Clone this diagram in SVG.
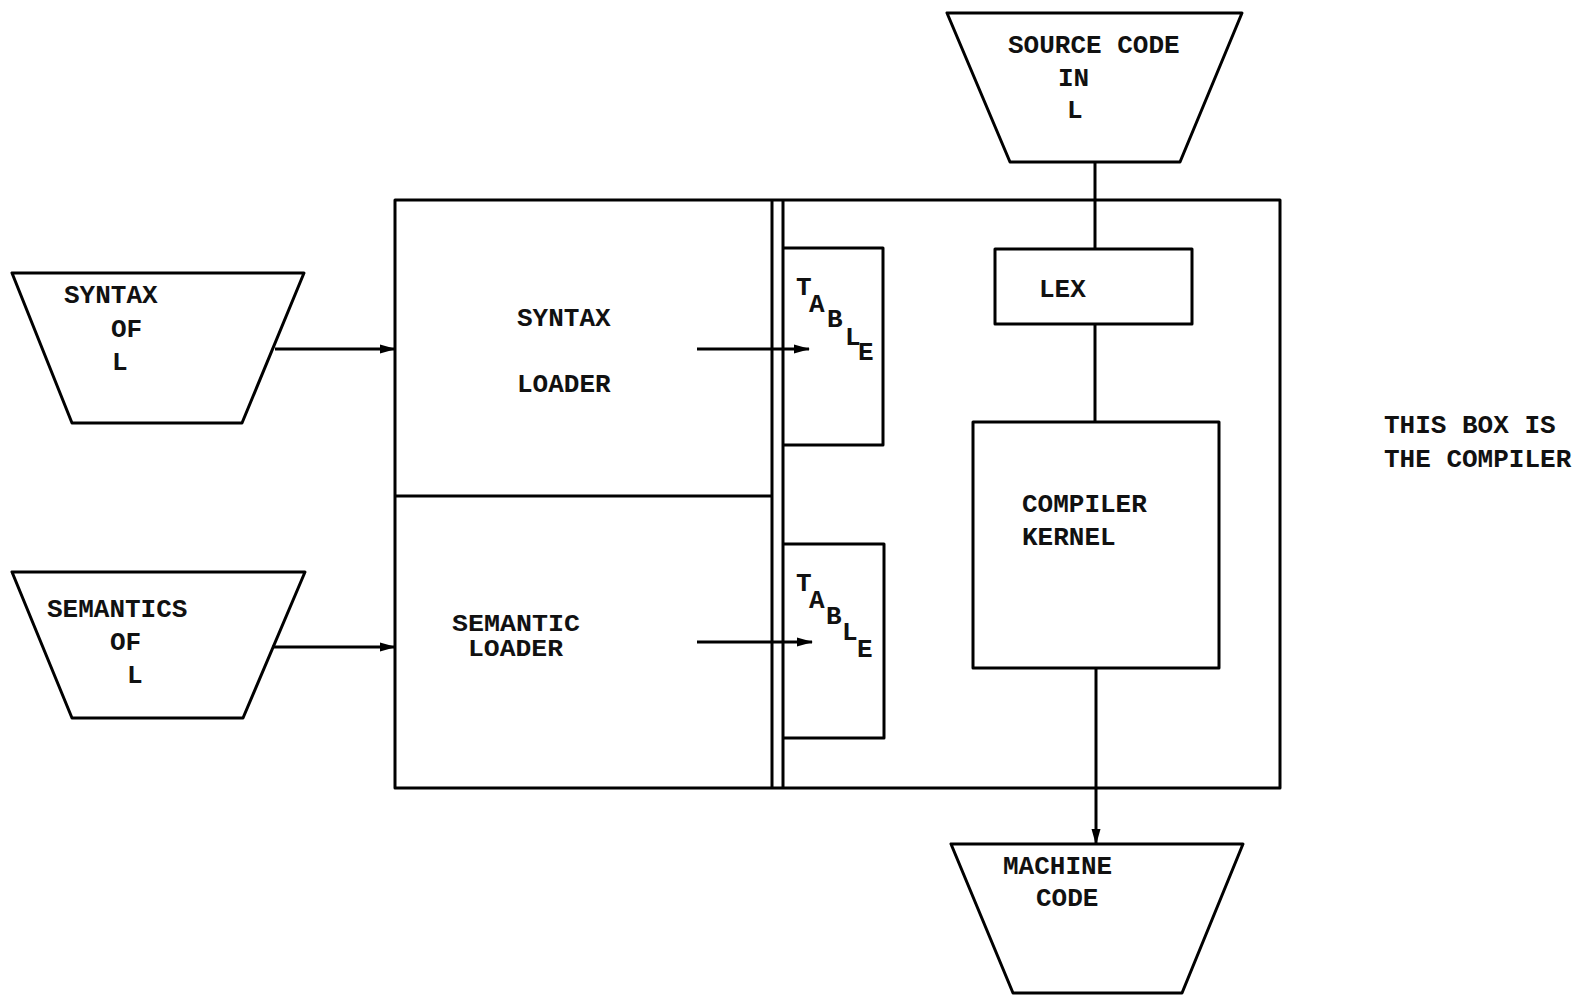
<svg xmlns="http://www.w3.org/2000/svg" width="1587" height="996" viewBox="0 0 1587 996">
<style>
.s{fill:none;stroke:#000;stroke-width:3;stroke-linejoin:round}
.b{fill:#fff;stroke:#000;stroke-width:3;stroke-linejoin:round}
.l{stroke:#000;stroke-width:3;fill:none}
text{font-family:"Liberation Mono","Courier New",monospace;font-size:26px;font-weight:bold;fill:#111}
.sm{font-size:24px}
</style>
<defs>
<marker id="ah" viewBox="0 0 16 10" refX="15" refY="5" markerWidth="16" markerHeight="10" markerUnits="userSpaceOnUse" orient="auto">
<path d="M0,0.5 L16,5 L0,9.5 Z" fill="#000"/>
</marker>
</defs>
<rect width="1587" height="996" fill="#fff"/>
<g id="compiler">
<rect class="s" x="395" y="200" width="885" height="588"/>
<line class="s" x1="772" y1="200" x2="772" y2="788"/>
<line class="s" x1="783" y1="200" x2="783" y2="788"/>
<line class="s" x1="395" y1="496" x2="772" y2="496"/>
</g>
<g id="syntax-loader">
<text x="517" y="326">SYNTAX</text>
<text x="517" y="392">LOADER</text>
</g>
<g id="semantic-loader">
<text class="sm" x="452" y="631" textLength="128" lengthAdjust="spacingAndGlyphs">SEMANTIC</text>
<text class="sm" x="468" y="656" textLength="95" lengthAdjust="spacingAndGlyphs">LOADER</text>
</g>
<g id="table1">
<path class="s" d="M783,248 H883 V445 H783"/>
<text x="796" y="295">T</text>
<text x="809" y="312">A</text>
<text x="827" y="327">B</text>
<text x="845" y="345">L</text>
<text x="858" y="360">E</text>
</g>
<g id="table2">
<path class="s" d="M783,544 H884 V738 H783"/>
<text x="796" y="591">T</text>
<text x="809" y="608">A</text>
<text x="826" y="624">B</text>
<text x="842" y="640">L</text>
<text x="857" y="657">E</text>
</g>
<g id="lex">
<rect class="b" x="995" y="249" width="197" height="75"/>
<text x="1039" y="297">LEX</text>
</g>
<g id="kernel">
<rect class="b" x="973" y="422" width="246" height="246"/>
<text x="1022" y="512">COMPILER</text>
<text x="1022" y="545">KERNEL</text>
</g>
<g id="source-code">
<polygon class="b" points="947,13 1242,13 1180,162 1010,162"/>
<text x="1008" y="53">SOURCE CODE</text>
<text x="1058" y="86">IN</text>
<text x="1067" y="118">L</text>
</g>
<g id="machine-code">
<polygon class="b" points="951,844 1243,844 1182,993 1013,993"/>
<text x="1003" y="874">MACHINE</text>
<text x="1036" y="906">CODE</text>
</g>
<g id="syntax-of-l">
<polygon class="b" points="12,273 304,273 242,423 72,423"/>
<text x="64" y="303">SYNTAX</text>
<text x="111" y="337">OF</text>
<text x="112" y="370">L</text>
</g>
<g id="semantics-of-l">
<polygon class="b" points="12,572 305,572 243,718 72,718"/>
<text x="47" y="617">SEMANTICS</text>
<text x="110" y="650">OF</text>
<text x="127" y="683">L</text>
</g>
<g id="note">
<text x="1384" y="433">THIS BOX IS</text>
<text x="1384" y="467">THE COMPILER</text>
</g>
<g id="connectors">
<line class="l" x1="275" y1="349" x2="395" y2="349" marker-end="url(#ah)"/>
<line class="l" x1="272" y1="647" x2="395" y2="647" marker-end="url(#ah)"/>
<line class="l" x1="697" y1="349" x2="809" y2="349" marker-end="url(#ah)"/>
<line class="l" x1="697" y1="642" x2="812" y2="642" marker-end="url(#ah)"/>
<line class="l" x1="1095" y1="162" x2="1095" y2="249"/>
<line class="l" x1="1095" y1="324" x2="1095" y2="422"/>
<line class="l" x1="1096" y1="668" x2="1096" y2="844" marker-end="url(#ah)"/>
</g>
</svg>
